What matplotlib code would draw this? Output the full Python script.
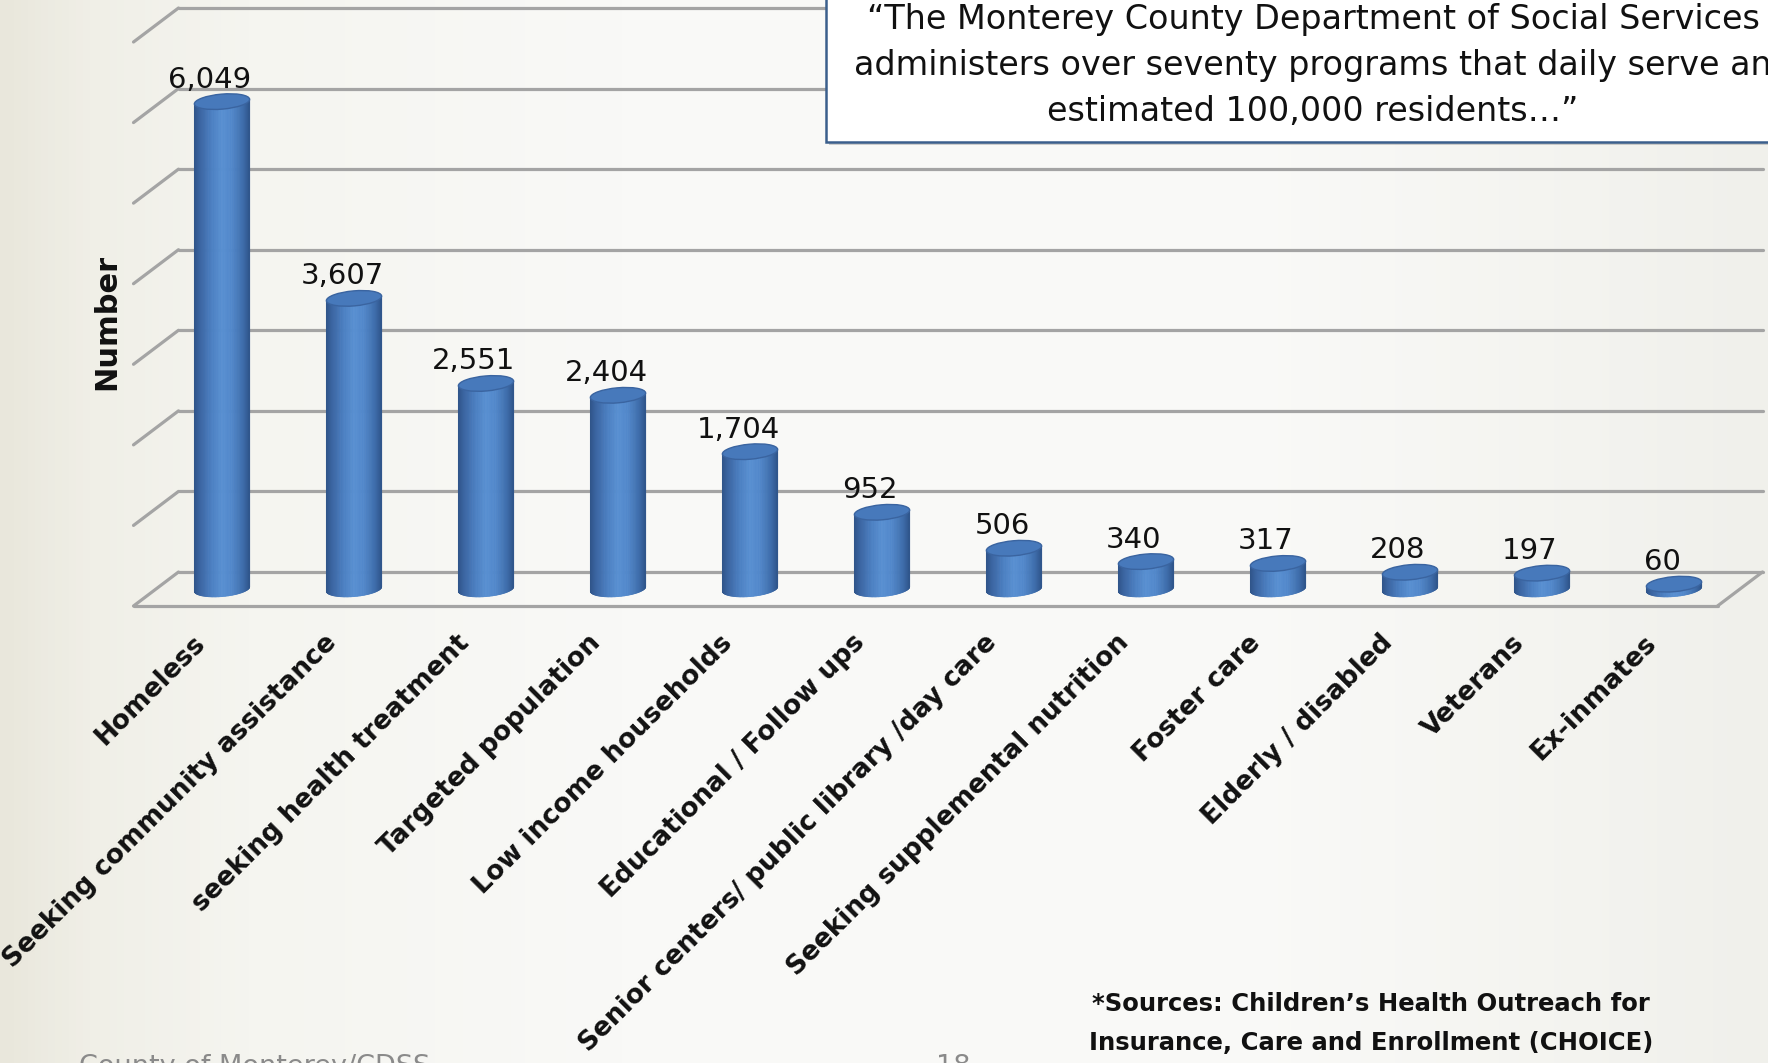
"""3D-style cylinder bar chart: Monterey County programs."""

import numpy as np
import matplotlib
matplotlib.use("Agg")
import matplotlib.pyplot as plt
from matplotlib.patches import Ellipse, Rectangle
from matplotlib.collections import PolyCollection
from matplotlib.transforms import ScaledTranslation, IdentityTransform
from matplotlib.colors import LinearSegmentedColormap

categories = [
    "Homeless", "Seeking community assistance", "seeking health treatment",
    "Targeted population", "Low income households", "Educational / Follow ups",
    "Senior centers/ public library /day care", "Seeking supplemental nutrition",
    "Foster care", "Elderly / disabled", "Veterans", "Ex-inmates",
]
values = [6049, 3607, 2551, 2404, 1704, 952, 506, 340, 317, 208, 197, 60]
grid_values = [0, 1000, 2000, 3000, 4000, 5000, 6000, 7000]

quote_lines = [
    "\u201cThe Monterey County Department of Social Services",
    "administers over seventy programs that daily serve an",
    "estimated 100,000 residents\u2026\u201d",
]
source_lines = [
    "*Sources: Children\u2019s Health Outreach for",
    "Insurance, Care and Enrollment (CHOICE)",
]

W, H, DPI = 1768, 1063, 100
DX, DY = 22.5, 17          # half depth of the 3D box, pixels
BAR_W = 0.42               # cylinder width in category units
ELL_H = 15                 # ellipse height, pixels
TILT = 5                   # ellipse tilt, degrees
GRID_COLOR = "#a4a4a4"

fig = plt.figure(figsize=(W / DPI, H / DPI), dpi=DPI)

# slide background
bg = fig.add_axes([0, 0, 1, 1], zorder=-10)
bg.set_axis_off()
bg_cmap = LinearSegmentedColormap.from_list("bg", [
    (0.0, "#e9e7dc"), (0.05, "#f0efe7"), (0.14, "#f5f5f0"),
    (0.35, "#f9f9f7"), (0.7, "#fafaf8"), (1.0, "#f0f0eb"),
])
bg.imshow(np.linspace(0, 1, 512)[None, :], cmap=bg_cmap, aspect="auto",
          extent=[0, 1, 0, 1])
bg.set_xlim(0, 1)
bg.set_ylim(0, 1)

# main axes: mid-depth plane of the 3D box
ax = fig.add_axes([156 / W, (H - 589) / H, 1584 / W, 564 / H])
ax.set_xlim(-0.5, len(values) - 0.5)
ax.set_ylim(0, 7000)
ax.set_autoscale_on(False)
ax.set_axis_off()
ax.patch.set_alpha(0)

px = fig.dpi_scale_trans
back = ax.transData + ScaledTranslation(DX / DPI, DY / DPI, px)
front = ax.transData + ScaledTranslation(-DX / DPI, -DY / DPI, px)
x_lo, x_hi = -0.5, len(values) - 0.5

line_kw = dict(color=GRID_COLOR, lw=2.3, solid_capstyle="round", clip_on=False)
for g in grid_values:
    ax.plot([x_lo, x_hi], [g, g], transform=back, **line_kw)
    p0 = back.transform((x_lo, g))
    p1 = front.transform((x_lo, g))
    ax.plot([p0[0], p1[0]], [p0[1], p1[1]], transform=IdentityTransform(), **line_kw)
ax.plot([x_lo, x_hi], [0, 0], transform=front, **line_kw)
p0 = back.transform((x_hi, 0))
p1 = front.transform((x_hi, 0))
ax.plot([p0[0], p1[0]], [p0[1], p1[1]], transform=IdentityTransform(), **line_kw)

# cylinders
cyl_cmap = LinearSegmentedColormap.from_list("cyl", [
    (0.0, "#2f5489"), (0.1, "#3c66a2"), (0.3, "#4b7fc1"), (0.5, "#5990d2"),
    (0.68, "#5187ca"), (0.88, "#3f6eac"), (1.0, "#30568c"),
])
th = np.deg2rad(TILT)


def ellipse_pt(cx, cy, a, b, t):
    ex, ey = a * np.cos(t), b * np.sin(t)
    return (cx + ex * np.cos(th) - ey * np.sin(th),
            cy + ex * np.sin(th) + ey * np.cos(th))


ts = np.linspace(np.pi, 2 * np.pi, 61)
for i, v in enumerate(values):
    cx, y0 = ax.transData.transform((i, 0))
    _, y1 = ax.transData.transform((i, v))
    a = ax.transData.transform((i + BAR_W / 2, 0))[0] - cx
    b = ELL_H / 2
    verts, cols = [], []
    for t0, t1 in zip(ts[:-1], ts[1:]):
        verts.append([ellipse_pt(cx, y0, a, b, t0), ellipse_pt(cx, y0, a, b, t1),
                      ellipse_pt(cx, y1, a, b, t1), ellipse_pt(cx, y1, a, b, t0)])
        cols.append(cyl_cmap((np.cos((t0 + t1) / 2) + 1) / 2))
    body = PolyCollection(verts, facecolors=cols, edgecolors=cols, linewidths=0.6,
                          transform=IdentityTransform(), clip_on=False, zorder=3)
    ax.add_collection(body, autolim=False)
    top = Ellipse((cx, y1), 2 * a, 2 * b, angle=TILT, facecolor="#4779bb",
                  edgecolor="#3a64a0", lw=1.0, transform=IdentityTransform(),
                  clip_on=False, zorder=4)
    ax.add_patch(top)

    ax.text(i, v, f"{v:,}", ha="center", va="baseline", fontsize=21,
            color="#111111", zorder=5,
            transform=ax.transData + ScaledTranslation(-12 / DPI, 14 / DPI, px))
    ax.text(i, 0, categories[i], ha="right", va="baseline", rotation=45,
            rotation_mode="anchor", fontsize=19, fontweight="bold",
            color="#111111", clip_on=False,
            transform=ax.transData + ScaledTranslation(-16 / DPI, -55 / DPI, px))

fig.text(107 / W, 1 - 322 / H, "Number", rotation=90, ha="center", va="center",
         fontsize=22, fontweight="bold", color="#111111")

# quote box
box_l, box_r, box_b = 826, 1775, 142
fig.patches.append(Rectangle(((box_l + 3) / W, 1 - (box_b + 3) / H),
                             (box_r - box_l) / W, 0.3, transform=fig.transFigure,
                             facecolor="#8c8c8c", edgecolor="none", alpha=0.4,
                             zorder=6))
fig.patches.append(Rectangle((box_l / W, 1 - box_b / H), (box_r - box_l) / W, 0.2,
                             transform=fig.transFigure, facecolor="white",
                             edgecolor="#3b5f8c", lw=1.8, zorder=7))
for k, line in enumerate(quote_lines):
    fig.text(1313 / W, 1 - (20 + 45.5 * k) / H, line, ha="center", va="center",
             fontsize=24, color="#111111", zorder=8)

for k, line in enumerate(source_lines):
    fig.text(1371 / W, 1 - (1004 + 39 * k) / H, line, ha="center", va="center",
             fontsize=17.5, fontweight="bold", color="#111111")

fig.text(79 / W, 1 - 1054 / H, "County of Monterey/CDSS", ha="left", va="top",
         fontsize=19.5, color="#8a8a8a")
fig.text(953 / W, 1 - 1054 / H, "18", ha="center", va="top",
         fontsize=19.5, color="#8a8a8a")

fig.savefig("out.png", dpi=DPI)
plt.close(fig)
